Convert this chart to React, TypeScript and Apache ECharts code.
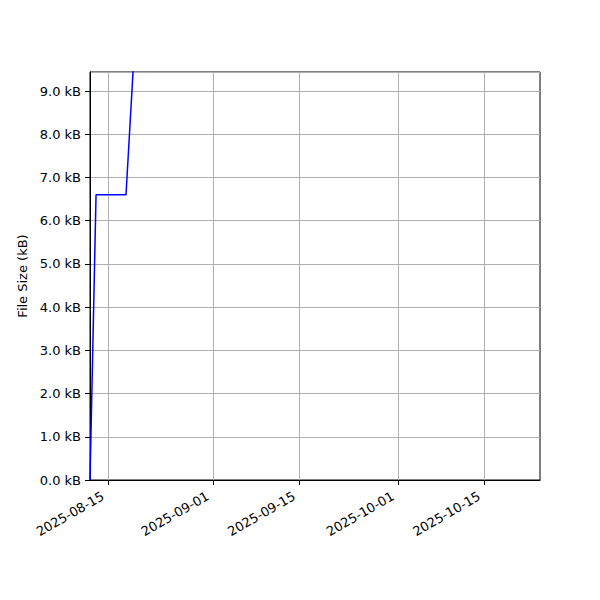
import React, { useEffect, useRef } from "react";
import * as echarts from "echarts";

const dates: string[] = [
  "2025-08-12T02:00:00",
  "2025-08-13T01:30:00",
  "2025-08-17T22:00:00",
  "2025-08-20T00:00:00",
];
const sizesKB: number[] = [0.0, 6.6, 6.6, 11.8];
const tickDates: string[] = ["2025-08-15", "2025-09-01", "2025-09-15", "2025-10-01", "2025-10-15"];
const xMinDate = "2025-08-12T02:00:00";
const xMaxDate = "2025-10-24T00:00:00";
const yMax = 9.44;

const pad = (n: number) => (n < 10 ? "0" + n : "" + n);
const fmtDate = (v: number) => {
  const d = new Date(v);
  return d.getFullYear() + "-" + pad(d.getMonth() + 1) + "-" + pad(d.getDate());
};

export default function App() {
  const ref = useRef<HTMLDivElement>(null);
  useEffect(() => {
    if (!ref.current) return;
    const chart = echarts.init(ref.current, null, { renderer: "svg" });
    const ticks = tickDates.map((d) => new Date(d + "T00:00:00").getTime());
    const font = "DejaVu Sans";
    chart.setOption({
      animation: false,
      backgroundColor: "#ffffff",
      grid: {
        left: 90,
        right: 60,
        top: 72,
        bottom: 120,
        show: true,
        borderColor: "#000000",
        borderWidth: 1,
        backgroundColor: "transparent",
      },
      xAxis: {
        type: "value",
        scale: true,
        min: new Date(xMinDate).getTime(),
        max: new Date(xMaxDate).getTime(),
        axisLine: { show: true, onZero: false, lineStyle: { color: "#000", width: 1 } },
        axisTick: { show: true, length: 5, lineStyle: { color: "#000" }, customValues: ticks },
        axisLabel: {
          customValues: ticks,
          rotate: 30,
          fontFamily: font,
          fontSize: 13,
          color: "#000",
          margin: 12,
          padding: [0, 6, 0, 0],
          formatter: (v: number) => fmtDate(v),
        },
        splitLine: { show: true, lineStyle: { color: "#b0b0b0", width: 1 } },
      },
      yAxis: {
        type: "value",
        min: 0,
        max: yMax,
        interval: 1,
        name: "File Size (kB)",
        nameLocation: "middle",
        nameGap: 56,
        nameTextStyle: { fontFamily: font, fontSize: 13, color: "#000" },
        axisLine: { show: true, lineStyle: { color: "#000", width: 1 } },
        axisTick: { show: true, length: 5, lineStyle: { color: "#000" } },
        axisLabel: {
          fontFamily: font,
          fontSize: 13,
          color: "#000",
          margin: 9,
          showMaxLabel: false,
          formatter: (v: number) => v.toFixed(1) + " kB",
        },
        splitLine: { show: true, lineStyle: { color: "#b0b0b0", width: 1 } },
      },
      series: [
        {
          type: "line",
          data: dates.map((d, i) => [new Date(d).getTime(), sizesKB[i]]),
          showSymbol: false,
          symbol: "none",
          clip: true,
          lineStyle: { color: "#0000ff", width: 1.5 },
        },
      ],
    });
    return () => chart.dispose();
  }, []);
  return <div ref={ref} style={{ width: 600, height: 600, margin: -8 }} />;
}
